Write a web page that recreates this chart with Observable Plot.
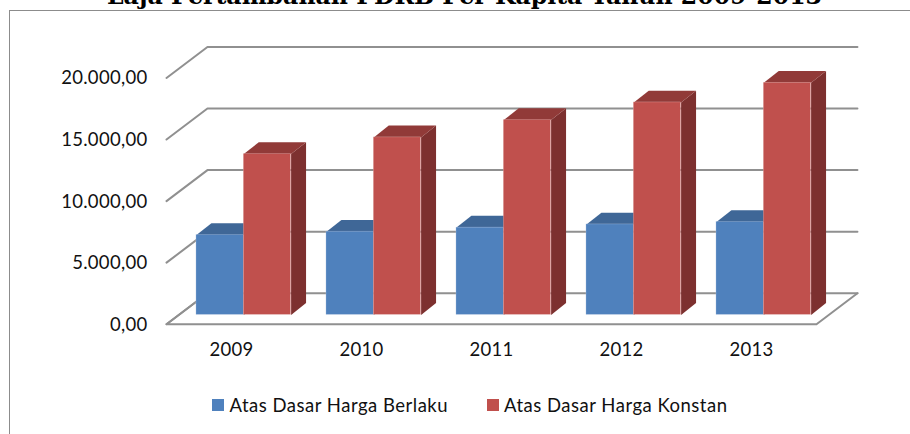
<!DOCTYPE html>
<html>
<head>
<meta charset="utf-8">
<script src="https://cdn.jsdelivr.net/npm/d3@7"></script>
<script src="https://cdn.jsdelivr.net/npm/@observablehq/plot@0.6"></script>
<style>
html,body{margin:0;padding:0;background:#fff;overflow:hidden}
#page{position:relative;width:910px;height:434px;overflow:hidden}
#frame{position:absolute;left:9px;top:10px;right:-5px;bottom:-5px;border-left:1.5px solid #8c8c8c;border-top:1.5px solid #8c8c8c}
#title{position:absolute;left:0;width:929px;top:-18px;line-height:28px;text-align:center;font-family:"DejaVu Serif",serif;font-weight:bold;font-size:23.6px;color:#000;white-space:nowrap}
#chart{position:absolute;left:0;top:0}
#chart text{letter-spacing:.3px}
#legend{position:absolute;top:393px;left:0;font:18.5px Lato,sans-serif;letter-spacing:.5px;color:#111;height:24px;line-height:24px;white-space:nowrap}
#legend span{position:absolute;top:0}
#legend i{position:absolute;top:6px;width:12px;height:12px}
</style>
</head>
<body>
<div id="page">
  <div id="frame"></div>
  <div id="title">Laja Pertambahan PDRB Per Kapita Tahun 2009-2013</div>
  <div id="chart"></div>
  <div id="legend"></div>
</div>
<script>
const years = [2009, 2010, 2011, 2012, 2013];
const berlaku = [6490, 6760, 7090, 7350, 7550];
const konstan = [13070, 14420, 15830, 17260, 18860];
const yTicks = [0, 5000, 10000, 15000, 20000];
const seriesNames = ["Atas Dasar Harga Berlaku", "Atas Dasar Harga Konstan"];

const blue = {front: "#4f81bd", top: "#3f6797", side: "#385d8a", edge: "#c5d4e8"};
const red = {front: "#c0504d", top: "#913a38", side: "#7d302f", edge: "#ecc9c8"};
const gridColor = "#909090";

// 3-D projection, in scale units
const depthX = 0.315, depthY = 2518;
const barW = 0.364, gapDepth = 0.30, barDepth = 0.365;
const x0 = 2008.5, x1 = 2013.5;

const fmt = d3.formatLocale({decimal: ",", thousands: ".", grouping: [3], currency: ["", ""]}).format(",.2f");

const grid = yTicks.flatMap(v => [
  {k: v, x: x0, y: v},
  {k: v, x: x0 + depthX, y: v + depthY},
  {k: v, x: x1 + depthX, y: v + depthY}
]);
const floor = [
  {x: x0 + depthX, y: depthY},
  {x: x0, y: 0},
  {x: x1, y: 0},
  {x: x1 + depthX, y: depthY}
];

function faces(values, offset) {
  const fr = [], top = [], side = [];
  const ox = depthX * gapDepth, oy = depthY * 0.30;
  const bx = depthX * barDepth, by = depthY * 0.38;
  years.forEach((yr, i) => {
    const l = yr + offset * barW + ox, r = l + barW, v = values[i] + oy;
    fr.push({x1: l, x2: r, y1: oy, y2: v});
    top.push({k: yr, x: l, y: v}, {k: yr, x: l + bx, y: v + by}, {k: yr, x: r + bx, y: v + by}, {k: yr, x: r, y: v});
    side.push({k: yr, x: r, y: oy}, {k: yr, x: r + bx, y: oy + by}, {k: yr, x: r + bx, y: v + by}, {k: yr, x: r, y: v});
  });
  return {fr, top, side};
}
function barMarks(values, offset, c) {
  const f = faces(values, offset);
  return [
    Plot.line(f.side, {x: "x", y: "y", z: "k", fill: c.side, stroke: "none"}),
    Plot.line(f.top, {x: "x", y: "y", z: "k", fill: c.top, stroke: "none"}),
    Plot.rect(f.fr, {x1: "x1", x2: "x2", y1: "y1", y2: "y2", fill: c.front, stroke: c.edge, strokeWidth: 0.5, strokeOpacity: 0.6})
  ];
}

const plot = Plot.plot({
  width: 910,
  height: 434,
  marginLeft: 166,
  marginRight: 94,
  marginTop: 77.5,
  marginBottom: 110.3,
  style: {background: "transparent", overflow: "visible"},
  x: {domain: [x0, x1], type: "linear"},
  y: {domain: [0, 20000]},
  marks: [
    Plot.line(grid, {x: "x", y: "y", z: "k", stroke: gridColor, strokeWidth: 2}),
    Plot.line(floor, {x: "x", y: "y", stroke: gridColor, strokeWidth: 2}),
    ...barMarks(berlaku, -1, blue),
    ...barMarks(konstan, 0, red),
    Plot.axisY({ticks: yTicks, tickFormat: fmt, tickSize: 0, tickPadding: 19, dy: 0.5, label: null,
      fontSize: 18.5, fontFamily: "Lato, sans-serif", fill: "#111"}),
    Plot.axisX({ticks: years, tickFormat: d => String(d), tickSize: 0, tickPadding: 19, label: null,
      fontSize: 18.5, fontFamily: "Lato, sans-serif", fill: "#111"})
  ]
});
document.getElementById("chart").append(plot);

const legend = document.getElementById("legend");
[[212, 229.5, blue.front], [487, 504, red.front]].forEach(([sx, tx, col], i) => {
  const sw = document.createElement("i");
  sw.style.left = sx + "px";
  sw.style.background = col;
  const t = document.createElement("span");
  t.style.left = tx + "px";
  t.textContent = seriesNames[i];
  legend.append(sw, t);
});
</script>
</body>
</html>
